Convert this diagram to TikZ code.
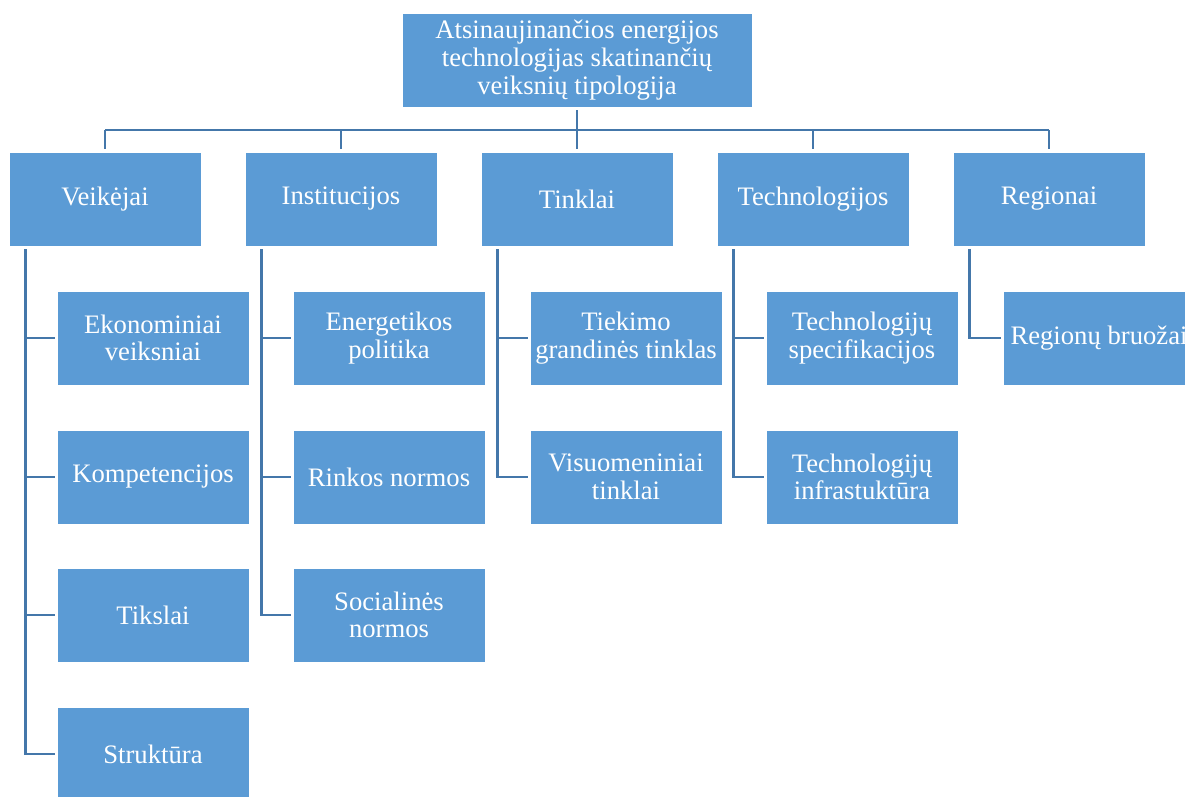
\documentclass[tikz,border=0pt]{standalone}
\usepackage{fontspec}
\setmainfont{Liberation Serif}
\definecolor{boxblue}{HTML}{5B9BD5}
\definecolor{linkblue}{HTML}{4477AA}
\begin{document}
\begin{tikzpicture}[x=0.75pt,y=-0.75pt,
  box/.style={draw=white,line width=0.6pt,fill=boxblue,text=white,
    minimum width=144pt,minimum height=70.5pt,inner sep=0pt,align=center,
    font=\fontsize{20pt}{20.8pt}\selectfont},
  topbox/.style={box,minimum width=262.5pt},
  conn/.style={draw=linkblue,line width=2.2pt}]
\useasboundingbox (0,0) rectangle (1185,796);
\clip (0,0) rectangle (1185,796);

% root
\node[topbox] (top) at (577,60) {Atsinaujinančios energijos\\technologijas skatinančių\\veiksnių tipologija};

% first level
\node[box] (l1) at (105,199)  {Veikėjai};
\node[box] (l2) at (341,199)  {Institucijos};
\node[box] (l3) at (577,199)  {Tinklai};
\node[box] (l4) at (813,199)  {Technologijos};
\node[box] (l5) at (1049,199) {Regionai};

% second level
\node[box] (c11) at (153,338) {Ekonominiai\\veiksniai};
\node[box] (c12) at (153,477) {Kompetencijos};
\node[box] (c13) at (153,615) {Tikslai};
\node[box] (c14) at (153,754) {Struktūra};

\node[box] (c21) at (389,338) {Energetikos\\politika};
\node[box] (c22) at (389,477) {Rinkos normos};
\node[box] (c23) at (389,615) {Socialinės\\normos};

\node[box] (c31) at (626,338) {Tiekimo\\grandinės tinklas};
\node[box] (c32) at (626,477) {Visuomeniniai\\tinklai};

\node[box] (c41) at (862,338) {Technologijų\\specifikacijos};
\node[box] (c42) at (862,477) {Technologijų\\infrastuktūra};

\node[box] (c51) at (1099,338) {Regionų bruožai};

% root to first level
\coordinate (bus) at (577,130);
\draw[conn] ([yshift=-2.25pt]top.south) -- (top.south |- bus);
\draw[conn] (l1.north |- bus) -- (l5.north |- bus);
\foreach \n in {l1,l2,l3,l4,l5}
  \draw[conn] (\n.north |- bus) -- ([yshift=2.25pt]\n.north);

% first level to second level
\foreach \p/\c in {l1/c11,l1/c12,l1/c13,l1/c14,l2/c21,l2/c22,l2/c23,l3/c31,l3/c32,l4/c41,l4/c42,l5/c51}
  \draw[conn] ([shift={(17,3)}]\p.south west) |- ([xshift=-1.5pt]\c.west);
\end{tikzpicture}
\end{document}
